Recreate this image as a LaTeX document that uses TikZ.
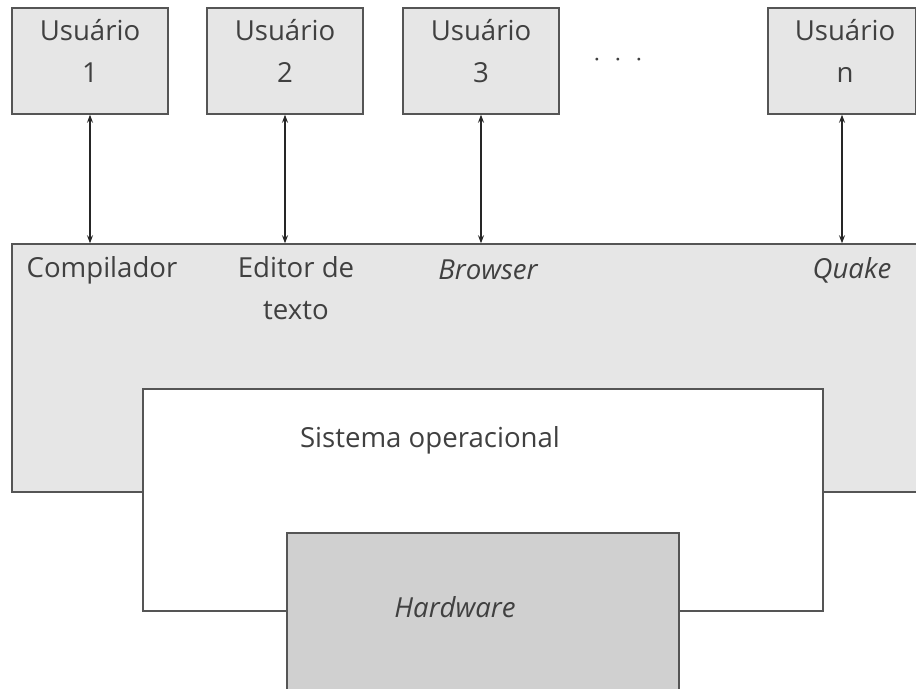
\documentclass[tikz,border=0pt]{standalone}
\usepackage{fontspec}
\setmainfont{Open Sans}
\usetikzlibrary{positioning, arrows.meta}
\definecolor{BoxGray}{RGB}{230, 230, 230}
\definecolor{HwGray}{RGB}{208, 208, 208}
\definecolor{LineGray}{RGB}{85, 85, 85}
\definecolor{TextGray}{RGB}{64, 64, 64}

\begin{document}
\begin{tikzpicture}[x=0.75pt, y=-0.75pt,
    every node/.style={font=\fontsize{20.7}{31.5}\selectfont, text=TextGray},
    userbox/.style={draw=LineGray, line width=1.1pt, fill=BoxGray, minimum width=117pt, minimum height=79.5pt, inner sep=0pt},
    layer/.style={draw=LineGray, line width=1.1pt, inner sep=0pt},
    txt/.style={inner sep=0pt, align=center},
    link/.style={{Stealth[length=6pt,width=4.5pt]}-{Stealth[length=6pt,width=4.5pt]}, line width=0.8pt, black!85}]
    \useasboundingbox (0,0) rectangle (916,688);
    \clip (0,0) rectangle (916,688);

    % Layers
    \node[layer, fill=BoxGray, minimum width=688.5pt, minimum height=186pt] (apps) at (471,368) {};
    \node[layer, fill=white, minimum width=510pt, minimum height=166.5pt] (os) at (483,500) {};
    \node[layer, fill=HwGray, minimum width=294pt, minimum height=125.25pt] (hw) at (483,616.5) {};

    % Users
    \node[userbox] (u1) at (90,61) {};
    \node[userbox] (u2) at (285,61) {};
    \node[userbox] (u3) at (481,61) {};
    \node[userbox, minimum width=111pt] (un) at (842,61) {};
    \node[txt] (u1t) at (90,51) {Usuário\\1};
    \node[txt] (u2t) at (285,51) {Usuário\\2};
    \node[txt] (u3t) at (481,51) {Usuário\\3};
    \node[txt] (unt) at (845,51) {Usuário\\n};
    \node[txt] (dots) at (618,60) {$\cdot\ \cdot\ \cdot$};

    % Links
    \draw[link] (u1.south) -- (u1.south |- apps.north);
    \draw[link] (u2.south) -- (u2.south |- apps.north);
    \draw[link] (u3.south) -- (u3.south |- apps.north);
    \draw[link] (un.south) -- (un.south |- apps.north);

    % Programs
    \node[txt] (comp) at (102,270) {Compilador};
    \node[txt, anchor=north] (edit) at (296,256) {Editor de\\texto};
    \node[txt] (brow) at (488,270) {\itshape Browser};
    \node[txt] (quake) at (852,270) {\itshape Quake};
    \node[txt] (sotxt) at (430,440) {Sistema operacional};
    \node[txt] (hwtxt) at (455,607) {\itshape Hardware};
\end{tikzpicture}
\end{document}
